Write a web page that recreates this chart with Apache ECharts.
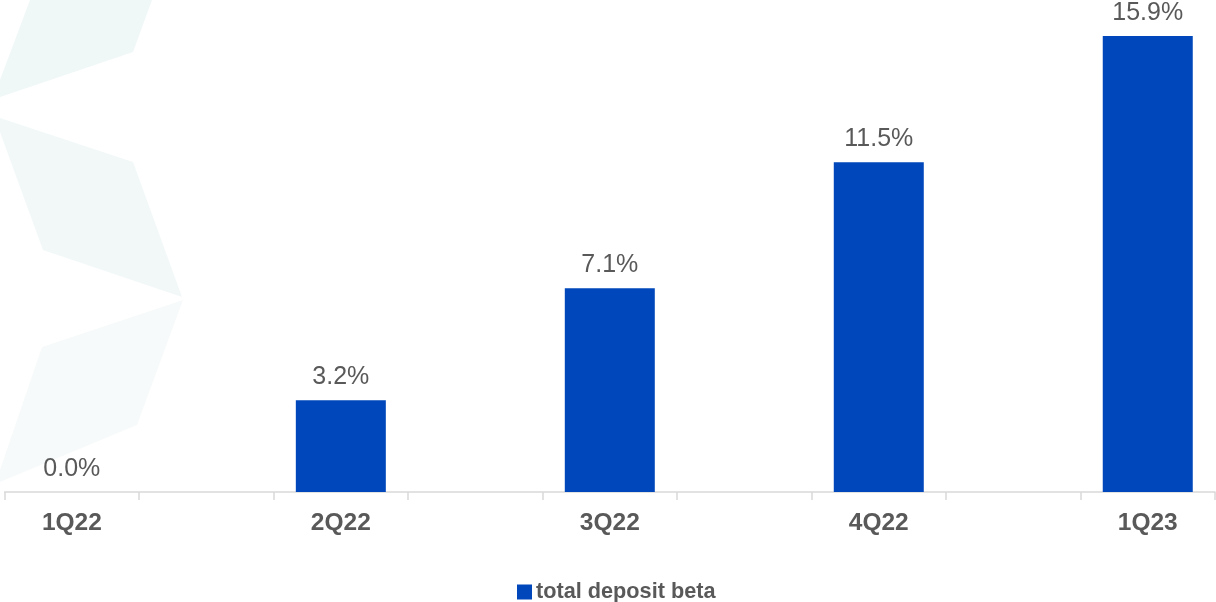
<!DOCTYPE html>
<html>
<head>
<meta charset="utf-8">
<script src="https://cdn.jsdelivr.net/npm/echarts@6/dist/echarts.min.js"></script>
<style>
  html, body { margin: 0; padding: 0; background: #ffffff; }
  #chart { width: 1216px; height: 602px; }
</style>
</head>
<body>
<div id="chart"></div>
<script>
// ---- data ----
const quarters = ['1Q22', '2Q22', '3Q22', '4Q22', '1Q23'];
const depositBeta = [0.0, 3.2, 7.1, 11.5, 15.9];
const seriesName = 'total deposit beta';

// the axis has a blank slot between quarters (tick every half step)
const axisCategories = [];
const axisValues = [];
quarters.forEach(function (q, i) {
  if (i > 0) { axisCategories.push(''); axisValues.push(null); }
  axisCategories.push(q);
  axisValues.push(depositBeta[i]);
});

const FONT = '"Liberation Sans", Arial, sans-serif';
const chart = echarts.init(document.getElementById('chart'));

chart.setOption({
  animation: false,
  backgroundColor: '#ffffff',
  graphic: [
    { type: 'polygon', z: -10, silent: true,
      shape: { points: [[30, 0], [152, 0], [133, 52], [0, 97], [0, 80]] },
      style: { fill: '#eff7f7' } },
    { type: 'polygon', z: -10, silent: true,
      shape: { points: [[0, 118], [133, 162], [182, 297], [43, 250], [0, 132]] },
      style: { fill: '#f2f8f8' } },
    { type: 'polygon', z: -10, silent: true,
      shape: { points: [[42, 347], [183, 300], [137, 425], [0, 482], [0, 470]] },
      style: { fill: '#f7fafa' } }
  ],
  grid: { left: 4.6, right: 1, top: 4.4, bottom: 110, containLabel: false },
  legend: {
    data: [seriesName],
    left: 512, top: 576,
    icon: 'rect',
    itemWidth: 15, itemHeight: 15, itemGap: 10,
    textStyle: { fontFamily: FONT, fontSize: 21.7, fontWeight: 'bold', color: '#595959', padding: [0, 0, 0, -1] }
  },
  xAxis: {
    type: 'category',
    data: axisCategories,
    boundaryGap: true,
    axisLine: { lineStyle: { color: '#d9d9d9', width: 1.5 } },
    axisTick: { show: true, interval: 0, length: 8, lineStyle: { color: '#d9d9d9', width: 1.5 } },
    axisLabel: {
      interval: 0, margin: 19,
      fontFamily: FONT, fontSize: 24.5, fontWeight: 'bold', color: '#595959'
    },
    splitLine: { show: false }
  },
  yAxis: {
    type: 'value', min: 0, max: 17, show: false,
    splitLine: { show: false }
  },
  series: [{
    name: seriesName,
    type: 'bar',
    data: axisValues,
    barWidth: 90,
    itemStyle: { color: '#0047bb' },
    label: {
      show: true, position: 'top', distance: 10.5,
      fontFamily: FONT, fontSize: 25, color: '#595959',
      formatter: function (p) { return p.value == null ? '' : p.value.toFixed(1) + '%'; }
    }
  }]
});
</script>
</body>
</html>
